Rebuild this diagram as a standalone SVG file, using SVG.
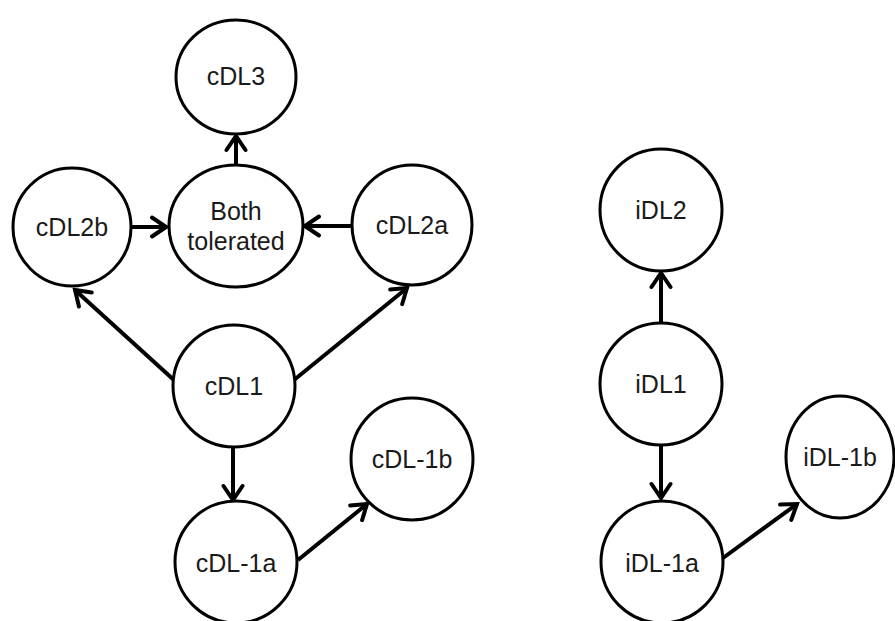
<svg xmlns="http://www.w3.org/2000/svg" width="895" height="621" viewBox="0 0 895 621">
  <style>
    .node { fill: #ffffff; stroke: #000000; stroke-width: 3; }
    .label { font-family: "Liberation Sans", Arial, sans-serif; font-size: 25px; fill: #1a1a1a; text-anchor: middle; }
    .edge { fill: none; stroke: #000000; stroke-width: 4; }
  </style>
  <defs>
    <marker id="chevron" viewBox="0 0 20 24" refX="17" refY="12" markerWidth="20" markerHeight="24" markerUnits="userSpaceOnUse" orient="auto">
      <polyline points="3,2.5 17,12 3,21.5" fill="none" stroke="#000" stroke-width="4" stroke-linecap="round"/>
    </marker>
  </defs>
  <rect width="895" height="621" fill="#ffffff"/>

  <!-- connectors -->
  <g id="connectors">
    <line class="edge" x1="236" y1="165" x2="236" y2="136" marker-end="url(#chevron)"/>
    <line class="edge" x1="132" y1="227" x2="166" y2="227" marker-end="url(#chevron)"/>
    <line class="edge" x1="352" y1="226" x2="305" y2="226" marker-end="url(#chevron)"/>
    <line class="edge" x1="175" y1="381" x2="75" y2="290" marker-end="url(#chevron)"/>
    <line class="edge" x1="294" y1="380" x2="407" y2="288" marker-end="url(#chevron)"/>
    <line class="edge" x1="233" y1="447" x2="233" y2="500" marker-end="url(#chevron)"/>
    <line class="edge" x1="298" y1="560" x2="367" y2="504" marker-end="url(#chevron)"/>
    <line class="edge" x1="661" y1="323" x2="661" y2="273" marker-end="url(#chevron)"/>
    <line class="edge" x1="661" y1="445" x2="661" y2="498" marker-end="url(#chevron)"/>
    <line class="edge" x1="723" y1="558" x2="797" y2="504" marker-end="url(#chevron)"/>
  </g>

  <!-- left graph -->
  <g id="cDL3">
    <ellipse class="node" cx="236" cy="77" rx="60" ry="57"/>
    <text class="label" x="236" y="85">cDL3</text>
  </g>
  <g id="cDL2b">
    <circle class="node" cx="72" cy="227" r="59"/>
    <text class="label" x="72" y="236">cDL2b</text>
  </g>
  <g id="both-tolerated">
    <ellipse class="node" cx="236" cy="226" rx="67" ry="61"/>
    <text class="label" x="236" y="220">Both</text>
    <text class="label" x="236" y="250">tolerated</text>
  </g>
  <g id="cDL2a">
    <circle class="node" cx="412" cy="225" r="60"/>
    <text class="label" x="412" y="234">cDL2a</text>
  </g>
  <g id="cDL1">
    <circle class="node" cx="234" cy="386" r="61"/>
    <text class="label" x="234" y="395">cDL1</text>
  </g>
  <g id="cDL-1a">
    <circle class="node" cx="236" cy="562" r="61"/>
    <text class="label" x="236" y="572">cDL-1a</text>
  </g>
  <g id="cDL-1b">
    <circle class="node" cx="412" cy="459" r="61"/>
    <text class="label" x="412" y="468">cDL-1b</text>
  </g>

  <!-- right graph -->
  <g id="iDL2">
    <circle class="node" cx="661" cy="210" r="61"/>
    <text class="label" x="661" y="219">iDL2</text>
  </g>
  <g id="iDL1">
    <circle class="node" cx="661" cy="384" r="61"/>
    <text class="label" x="661" y="393">iDL1</text>
  </g>
  <g id="iDL-1a">
    <circle class="node" cx="662" cy="562" r="61"/>
    <text class="label" x="662" y="572">iDL-1a</text>
  </g>
  <g id="iDL-1b">
    <ellipse class="node" cx="840" cy="457" rx="54" ry="61"/>
    <text class="label" x="840" y="466">iDL-1b</text>
  </g>
</svg>
